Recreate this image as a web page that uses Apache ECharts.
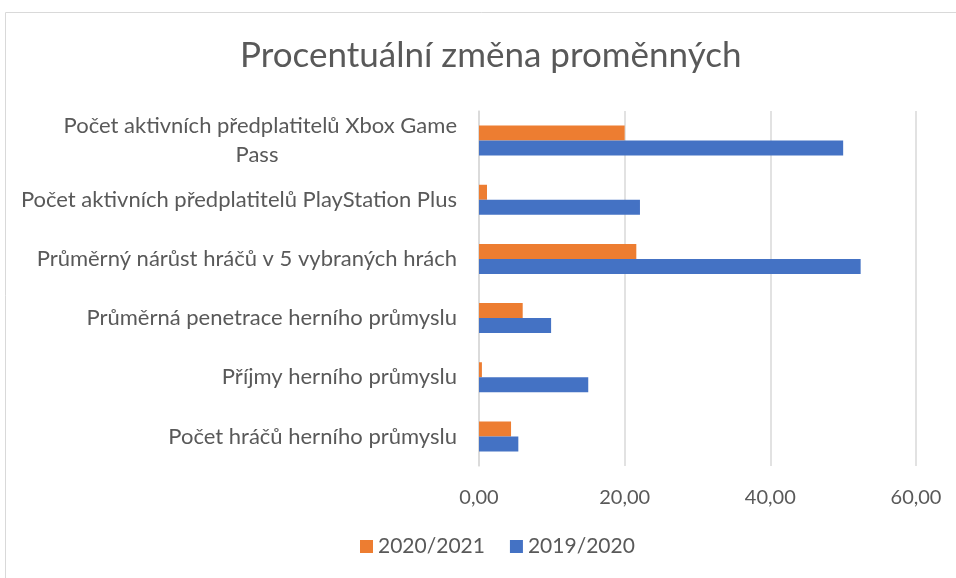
<!DOCTYPE html>
<html>
<head>
<meta charset="utf-8">
<script src="https://cdn.jsdelivr.net/npm/echarts@6/dist/echarts.min.js"></script>
<style>
  html, body { margin: 0; padding: 0; background: #fff; }
  #chart { width: 956px; height: 578px; }
</style>
</head>
<body>
<div id="chart"></div>
<script>
  // categories, bottom to top (as the axis draws them)
  var categories = [
    'Počet hráčů herního průmyslu',
    'Příjmy herního průmyslu',
    'Průměrná penetrace herního průmyslu',
    'Průměrný nárůst hráčů v 5 vybraných hrách',
    'Počet aktivních předplatitelů PlayStation Plus',
    'Počet aktivních předplatitelů Xbox Game Pass'
  ];
  var series2021 = [4.4, 0.4, 6.0, 21.6, 1.1, 20.0];
  var series2020 = [5.4, 15.0, 9.9, 52.4, 22.1, 50.0];
  var seriesNames = ['2020/2021', '2019/2020'];

  var chart = echarts.init(document.getElementById('chart'));
  var textColor = '#595959';
  var font = 'Lato, "Open Sans", sans-serif';

  function fmt(v) {
    return v.toFixed(2).replace('.', ',');
  }

  chart.setOption({
    animation: false,
    textStyle: { fontFamily: font },
    title: {
      text: 'Procentuální změna proměnných',
      left: 235,
      top: 33,
      textStyle: { color: textColor, fontSize: 35, fontWeight: 'normal', fontFamily: font }
    },
    graphic: [{
      type: 'rect',
      shape: { x: 5.5, y: 12.5, width: 1000, height: 700 },
      style: { fill: null, stroke: '#d9d9d9', lineWidth: 1 },
      silent: true
    }],
    legend: {
      data: seriesNames,
      bottom: 16,
      left: 355,
      itemWidth: 13,
      itemHeight: 13,
      itemGap: 25,
      icon: 'rect',
      textStyle: { color: textColor, fontSize: 21, fontFamily: font }
    },
    grid: { left: 479, right: 40, top: 111, bottom: 112 },
    xAxis: {
      type: 'value',
      min: 0,
      max: 60,
      interval: 20,
      axisLine: { show: false },
      axisTick: { show: false },
      axisLabel: { color: textColor, fontSize: 20, margin: 22, formatter: fmt },
      splitLine: { lineStyle: { color: '#d9d9d9', width: 1.5 } }
    },
    yAxis: {
      type: 'category',
      data: categories,
      axisLine: { show: true, lineStyle: { color: '#d9d9d9', width: 1.5 } },
      axisTick: { show: false },
      axisLabel: {
        color: textColor,
        fontSize: 22,
        margin: 22,
        lineHeight: 29,
        formatter: function (v) {
          if (v.indexOf('Xbox') >= 0) {
            return '{a|Počet aktivních předplatitelů Xbox Game}\n{b|Pass}';
          }
          return v;
        },
        rich: {
          a: { color: textColor, fontSize: 22, lineHeight: 29, fontFamily: font },
          b: { color: textColor, fontSize: 22, lineHeight: 29, fontFamily: font, width: 400, align: 'center' }
        }
      }
    },
    series: [
      {
        name: seriesNames[0],
        type: 'bar',
        data: series2021,
        barWidth: 15,
        barGap: '0%',
        itemStyle: { color: '#ED7D31' }
      },
      {
        name: seriesNames[1],
        type: 'bar',
        data: series2020,
        barWidth: 15,
        barGap: '0%',
        itemStyle: { color: '#4472C4' }
      }
    ]
  });
</script>
</body>
</html>
